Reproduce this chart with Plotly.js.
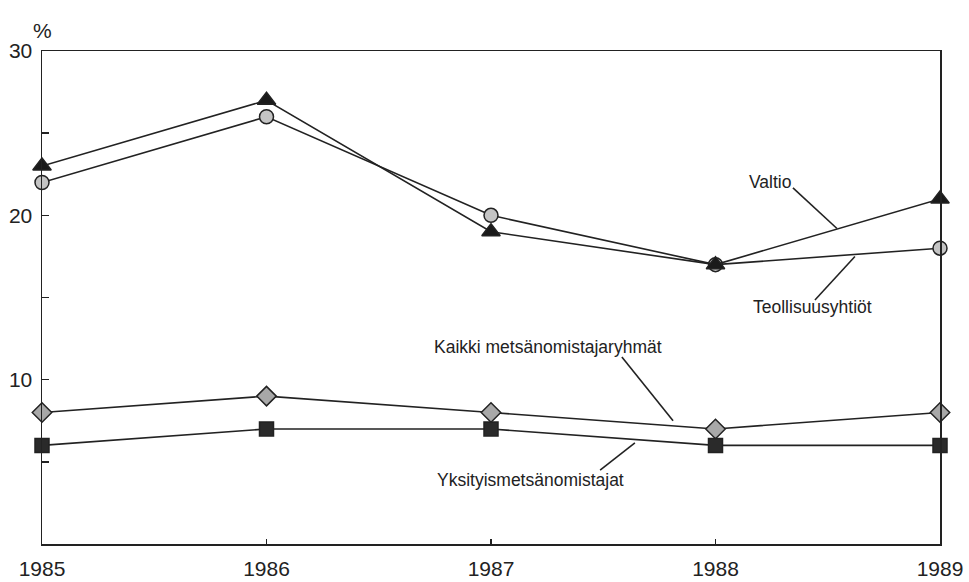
<!DOCTYPE html>
<html>
<head>
<meta charset="utf-8">
<script src="https://cdn.plot.ly/plotly-3.0.1.min.js"></script>
<style>html,body{margin:0;padding:0;background:#fff;}#chart{width:969px;height:582px;}</style>
</head>
<body>
<div id="chart"></div>
<script>
const years = [1985, 1986, 1987, 1988, 1989];
const valtio = [23, 27, 19, 17, 21];
const teollisuus = [22, 26, 20, 17, 18];
const kaikki = [8, 9, 8, 7, 8];
const yksityis = [6, 7, 7, 6, 6];
const yTickVals = [0, 5, 10, 15, 20, 25, 30];
const yTickText = ['', '', '10', '', '20', '', '30'];
const xTickText = ['1985', '1986', '1987', '1988', '1989'];

const ink = '#222';
const font = 'Liberation Sans, Arial, sans-serif';

function series(name, y, symbol, size, fill) {
  return {
    type: 'scatter', mode: 'lines+markers', name: name, x: years, y: y,
    line: {color: ink, width: 1.6},
    marker: {symbol: symbol, size: size, color: fill, line: {color: ink, width: 1.5}},
    cliponaxis: false, showlegend: false
  };
}

const data = [
  series('Teollisuusyhtiöt', teollisuus, 'circle', 14, '#c4c4c4'),
  series('Valtio', valtio, 'triangle-up', 16, '#1a1a1a'),
  series('Kaikki metsänomistajaryhmät', kaikki, 'diamond', 15, '#a8a8a8'),
  series('Yksityismetsänomistajat', yksityis, 'square', 14, '#2a2a2a')
];

const labels = [
  {text: 'Valtio', x: 1988.243, y: 22.03, lx: [1988.345, 1988.541], ly: [21.67, 19.2]},
  {text: 'Teollisuusyhtiöt', x: 1988.43, y: 14.42, lx: [1988.443, 1988.621], ly: [14.85, 17.5]},
  {text: 'Kaikki metsänomistajaryhmät', x: 1987.254, y: 11.99, lx: [1987.583, 1987.811], ly: [11.38, 7.5]},
  {text: 'Yksityismetsänomistajat', x: 1987.174, y: 3.9, lx: [1987.486, 1987.641], ly: [4.5, 6.15]}
];

const annotations = labels.map(l => ({
  text: l.text, x: l.x, y: l.y, xref: 'x', yref: 'y', showarrow: false,
  font: {family: font, size: 17.5, color: ink}
}));
annotations.push({
  text: '%', xref: 'paper', yref: 'paper', x: -0.012, y: 1.069,
  showarrow: false, font: {family: font, size: 21, color: ink}
});

const shapes = labels.map(l => ({
  type: 'line', xref: 'x', yref: 'y', x0: l.lx[0], x1: l.lx[1], y0: l.ly[0], y1: l.ly[1],
  line: {color: ink, width: 1.6}
}));

const layout = {
  width: 969, height: 582,
  margin: {l: 42, r: 29, t: 51, b: 38},
  paper_bgcolor: '#fff', plot_bgcolor: '#fff',
  font: {family: font, color: ink},
  xaxis: {
    range: [1985, 1989], tickvals: years, ticktext: xTickText,
    ticks: 'inside', ticklen: 5, tickcolor: ink, tickwidth: 1.5,
    showline: true, linecolor: ink, linewidth: 1.5, mirror: true,
    showgrid: false, zeroline: false, ticklabelstandoff: 5,
    tickfont: {family: font, size: 21, color: ink}
  },
  yaxis: {
    range: [0, 30], tickvals: yTickVals, ticktext: yTickText,
    ticks: 'inside', ticklen: 7, tickcolor: ink, tickwidth: 1.5,
    showline: true, linecolor: ink, linewidth: 1.5, mirror: true,
    showgrid: false, zeroline: false, ticklabelstandoff: 4,
    tickfont: {family: font, size: 21, color: ink}
  },
  annotations: annotations,
  shapes: shapes
};

Plotly.newPlot('chart', data, layout, {displayModeBar: false, staticPlot: true});
</script>
</body>
</html>
